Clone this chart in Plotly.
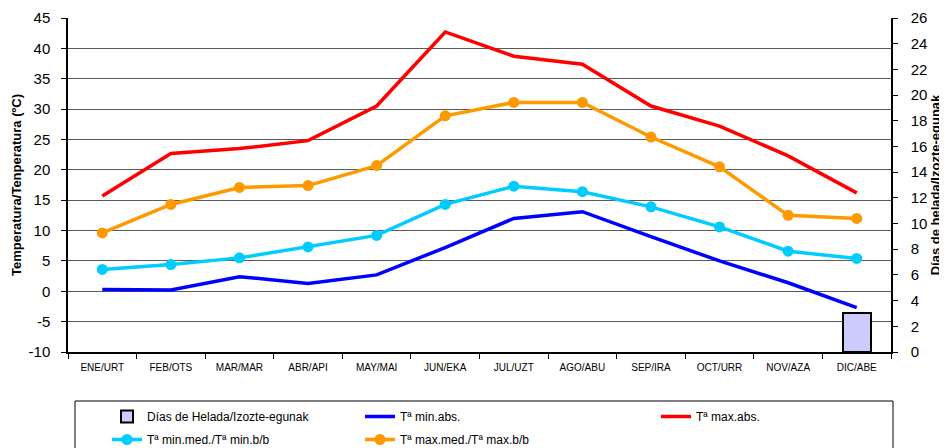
import plotly.graph_objects as go

months = ["ENE/URT", "FEB/OTS", "MAR/MAR", "ABR/API", "MAY/MAI", "JUN/EKA",
          "JUL/UZT", "AGO/ABU", "SEP/IRA", "OCT/URR", "NOV/AZA", "DIC/ABE"]
dias_helada = [0, 0, 0, 0, 0, 0, 0, 0, 0, 0, 0, 3]
t_min_abs = [0.3, 0.2, 2.4, 1.3, 2.7, 7.2, 12.0, 13.1, 9.0, 5.0, 1.4, -2.7]
t_max_abs = [15.7, 22.7, 23.5, 24.8, 30.5, 42.7, 38.7, 37.4, 30.5, 27.2, 22.3, 16.2]
t_min_med = [3.6, 4.4, 5.5, 7.3, 9.2, 14.3, 17.3, 16.4, 13.9, 10.6, 6.6, 5.4]
t_max_med = [9.6, 14.3, 17.1, 17.4, 20.7, 28.9, 31.1, 31.1, 25.4, 20.5, 12.5, 12.0]
temp_ticks = [-10, -5, 0, 5, 10, 15, 20, 25, 30, 35, 40, 45]
temp_tick_labels = ["-10", "-5", "0", "5", "10", "15", "20", "25", "30", "35", "40", "45"]

# The page body has an 8px margin, so the figure is sized to fill the window
OFF = 8
W, H = 947 - OFF, 448 - OFF
# plot area in window pixels: x 68..891, y 18..352
PL, PR, PT, PB = 68, 891, 18, 352
L, T = PL - OFF, PT - OFF
R, B = W - (PR - OFF), H - (PB - OFF)
pw, ph = PR - PL, PB - PT

def px(x):
    return (x - PL) / pw

def py(y):
    return (PB - y) / ph

FONT = "Liberation Sans, Arial, sans-serif"

fig = go.Figure()
fig.add_trace(go.Bar(
    x=months, y=[v if v > 0 else None for v in dias_helada], yaxis="y2",
    name="Días de Helada/Izozte-egunak", width=0.41,
    marker=dict(color="#CCCCFF", line=dict(color="black", width=2)),
    legend="legend", legendgroup="a"))
fig.add_trace(go.Scatter(
    x=months, y=t_min_abs, mode="lines", name="Tª min.abs.",
    line=dict(color="#0000FF", width=3.5), legend="legend2", legendgroup="b"))
fig.add_trace(go.Scatter(
    x=months, y=t_max_abs, mode="lines", name="Tª max.abs.",
    line=dict(color="#FF0000", width=3.5), legend="legend3", legendgroup="c"))
fig.add_trace(go.Scatter(
    x=months, y=t_min_med, mode="lines+markers", name="Tª min.med./Tª min.b/b",
    line=dict(color="#00CCFF", width=3.5), marker=dict(size=11, color="#00CCFF"),
    legend="legend", legendgroup="d"))
fig.add_trace(go.Scatter(
    x=months, y=t_max_med, mode="lines+markers", name="Tª max.med./Tª max.b/b",
    line=dict(color="#FF9900", width=3.5), marker=dict(size=11, color="#FF9900"),
    legend="legend2", legendgroup="e"))

leg_common = dict(orientation="v", yanchor="top", xanchor="left",
                  bgcolor="rgba(0,0,0,0)", borderwidth=0, tracegroupgap=4,
                  font=dict(family=FONT, size=12, color="black"))

fig.update_layout(
    width=W, height=H,
    margin=dict(l=L, r=R, t=T, b=B, pad=0, autoexpand=False),
    paper_bgcolor="white", plot_bgcolor="white",
    font=dict(family=FONT, color="black"),
    bargap=0,
    xaxis=dict(type="category", range=[-0.5, len(months) - 0.5],
               tickson="boundaries", ticks="outside", ticklen=5,
               tickcolor="black", showline=True, linecolor="black", linewidth=1.5,
               showgrid=False, tickfont=dict(size=10), zeroline=False,
               ticklabelstandoff=5, automargin=False),
    yaxis=dict(range=[-10, 45], tickmode="array", tickvals=temp_ticks,
               ticktext=temp_tick_labels, ticks="outside", ticklen=5,
               tickcolor="black", showline=True, linecolor="black", linewidth=1.5,
               showgrid=True, gridcolor="#5a5a5a", gridwidth=1, zeroline=False,
               tickfont=dict(size=15), ticklabelstandoff=8, automargin=False,
               title=dict(text="<b>Temperatura/Tenperatura (ºC)</b>",
                          font=dict(size=13), standoff=4)),
    yaxis2=dict(range=[0, 26], dtick=2, overlaying="y", side="right",
                ticks="outside", ticklen=5, tickcolor="black", showline=True,
                linecolor="black", linewidth=1.5, showgrid=False, zeroline=False,
                tickfont=dict(size=15), ticklabelstandoff=10, automargin=False,
                title=dict(text="<b>Días de helada/Izozte-egunak</b>",
                           font=dict(size=13), standoff=4)),
    legend=dict(x=px(107), y=py(402), **leg_common),
    legend2=dict(x=px(360), y=py(402), **leg_common),
    legend3=dict(x=px(656), y=py(402), **leg_common),
    showlegend=True,
    shapes=[dict(type="rect", xref="paper", yref="paper",
                 x0=px(75), x1=px(893), y0=py(401), y1=py(470),
                 line=dict(color="black", width=1), fillcolor="rgba(0,0,0,0)",
                 layer="below")],
)

fig.write_html("out.html")
